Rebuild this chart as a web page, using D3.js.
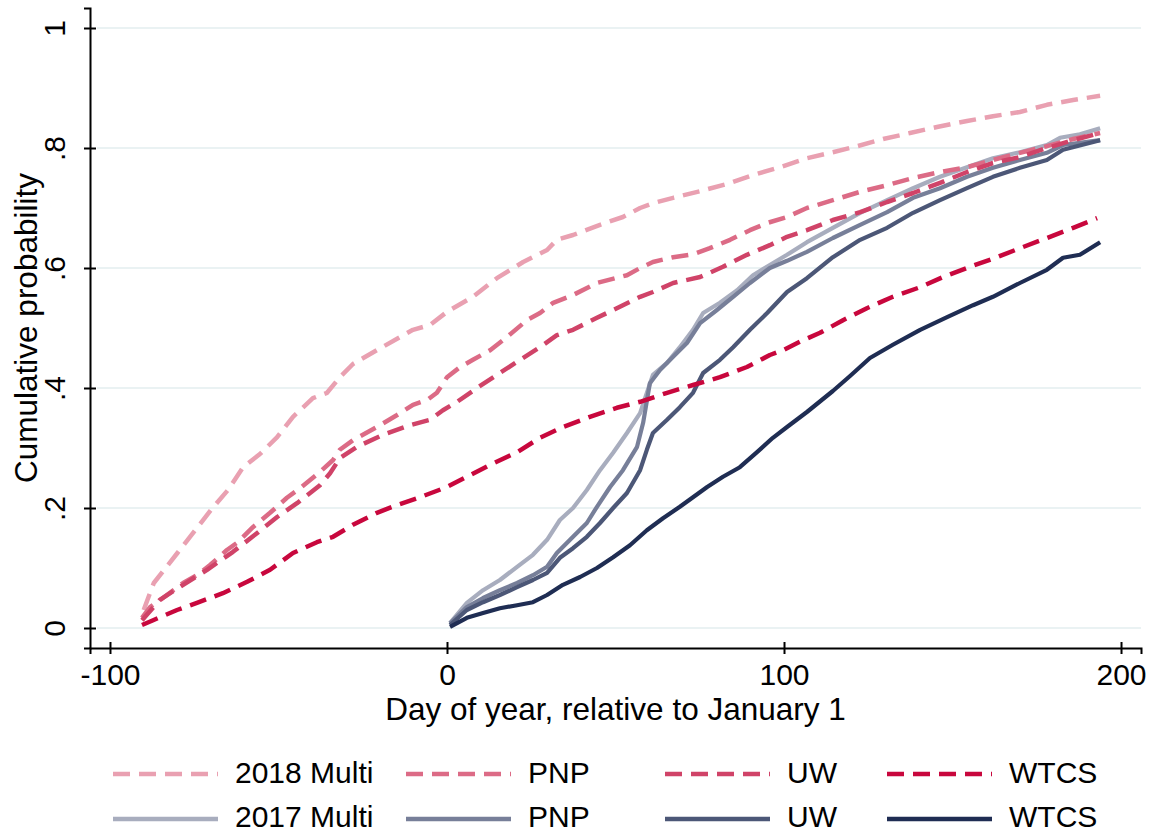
<!DOCTYPE html>
<html>
<head>
<meta charset="utf-8">
<script src="https://cdn.jsdelivr.net/npm/d3@7"></script>
<style>
  html, body { margin: 0; padding: 0; background: #fff; }
  svg { display: block; font-family: "Liberation Sans", Arial, sans-serif; }
</style>
</head>
<body>
<svg id="chart" width="1154" height="836"></svg>
<script>
// ---- Data (day relative to Jan 1, cumulative probability) ----
const multi2018 = [[-90,.03],[-87,.075],[-80,.125],[-74,.168],[-70,.197],[-65,.23],[-60.5,.268],[-55.5,.29],[-50.4,.318],[-45.7,.352],[-39.8,.383],[-35.6,.392],[-31.8,.418],[-27.9,.44],[-20.8,.463],[-13.9,.485],[-10.1,.497],[-5,.505],[0,.527],[7.7,.552],[14.8,.583],[22.6,.61],[29.7,.63],[32.6,.647],[37.4,.655],[45.4,.672],[52.2,.685],[57.3,.70],[61.1,.708],[67.1,.717],[75.1,.728],[83.1,.74],[90.8,.755],[98.8,.768],[106.8,.783],[114.5,.793],[121.7,.803],[129.4,.815],[137.4,.825],[145.4,.835],[154.3,.845],[162,.853],[170,.86],[178,.872],[185.8,.88],[193.8,.887]];
const pnp2018 = [[-90.5,.017],[-88.1,.035],[-84.3,.05],[-78.3,.075],[-74.2,.088],[-70.3,.105],[-65.3,.13],[-62.3,.142],[-57.6,.168],[-52.5,.192],[-47.5,.217],[-43.6,.233],[-37.7,.26],[-33.8,.28],[-31.8,.297],[-27.9,.313],[-20.8,.335],[-14.8,.355],[-10.1,.372],[-5.9,.38],[-3,.392],[0,.418],[3.9,.435],[7.7,.447],[12.8,.463],[17.8,.485],[23.7,.513],[27.6,.525],[31.5,.542],[37.4,.555],[44.5,.575],[53.4,.588],[57.3,.60],[61.1,.61],[67.1,.618],[73,.623],[78,.633],[84,.647],[89.9,.663],[95,.675],[100.9,.685],[106.8,.70],[114.5,.713],[122.6,.727],[130.6,.738],[138.3,.75],[146.3,.76],[154.3,.768],[162,.78],[170,.792],[178,.803],[185.8,.815],[193.8,.825]];
const uw2018 = [[-90.5,.013],[-85.2,.047],[-78.3,.072],[-71.2,.097],[-63.5,.127],[-56.4,.158],[-50.4,.185],[-44.5,.208],[-37.7,.238],[-34.7,.258],[-31.8,.283],[-26.7,.302],[-19,.322],[-11,.338],[-5,.347],[-1.2,.363],[3,.377],[8.9,.40],[15.7,.425],[21.7,.447],[27.6,.468],[32.6,.488],[37.4,.497],[44.5,.517],[50.4,.533],[57.3,.552],[61.1,.56],[67.1,.575],[75.1,.585],[81.9,.602],[89,.622],[95.8,.638],[100.9,.652],[106.8,.663],[114.5,.68],[122.6,.693],[130.6,.71],[138.3,.725],[146.3,.742],[154.3,.76],[162,.775],[170,.785],[178,.80],[185.8,.813],[193.8,.825]];
const wtcs2018 = [[-90.5,.005],[-87.2,.013],[-80.1,.03],[-74.2,.042],[-66.5,.058],[-59.3,.077],[-52.5,.097],[-45.7,.125],[-38.6,.143],[-33.8,.152],[-27.9,.172],[-20.8,.192],[-14.8,.205],[-8,.218],[0,.235],[5.9,.252],[12.8,.272],[20.8,.293],[27.6,.317],[34.4,.335],[42.4,.352],[50.4,.367],[57.3,.377],[65.3,.392],[73,.405],[81,.418],[89,.435],[95.8,.455],[99.7,.463],[104.7,.477],[110.7,.492],[117.5,.513],[124.6,.533],[132.3,.552],[140.4,.568],[147.2,.585],[155.2,.602],[163.2,.618],[170,.633],[178,.65],[185.8,.667],[192.9,.683]];
const multi2017 = [[0.9,.008],[5.9,.042],[10.7,.063],[15.7,.08],[20.8,.102],[25.5,.122],[29.7,.147],[33.5,.18],[37.4,.20],[41.5,.23],[45.4,.263],[49.3,.292],[53.4,.325],[57.3,.358],[59.6,.397],[61.1,.422],[65.3,.442],[69.1,.468],[73,.497],[76,.525],[81,.542],[86.1,.563],[90.8,.588],[95.8,.605],[100.9,.622],[106.8,.643],[114.5,.667],[122.6,.692],[130.6,.713],[138.3,.733],[146.3,.752],[154.3,.768],[162,.783],[170,.793],[178,.805],[181.9,.817],[187.8,.823],[193.8,.833]];
const pnp2017 = [[0.9,.008],[5.9,.035],[10.7,.05],[15.7,.063],[20.8,.075],[25.5,.088],[29.7,.102],[32.6,.125],[37.4,.152],[41.5,.175],[44.5,.202],[48.4,.235],[52.2,.263],[56.4,.302],[58.2,.342],[60.2,.408],[63.2,.43],[67.1,.452],[71.2,.475],[75.1,.508],[80.1,.53],[84.9,.552],[89.9,.575],[95.8,.60],[100.9,.612],[106.8,.627],[114.5,.65],[122.6,.672],[130.6,.693],[138.3,.717],[146.3,.733],[154.3,.752],[162,.767],[170,.78],[178,.792],[182.8,.805],[193.8,.813]];
const uw2017 = [[0.9,.005],[5.9,.03],[10.7,.043],[15.7,.055],[20.8,.068],[25.5,.08],[29.7,.092],[33.5,.117],[37.4,.133],[41.5,.152],[45.4,.175],[49.3,.20],[53.4,.225],[57.3,.263],[59.3,.297],[61.1,.325],[65.3,.347],[69.1,.368],[73,.392],[76,.425],[81,.447],[84.9,.468],[89.9,.497],[95,.525],[100.9,.56],[106.8,.583],[114.5,.618],[122.6,.647],[130.6,.667],[138.3,.692],[146.3,.713],[154.3,.733],[162,.752],[170,.767],[178,.78],[182.8,.797],[193.8,.813]];
const wtcs2017 = [[0.9,.002],[5.9,.017],[10.7,.025],[15.7,.033],[20.8,.038],[25.5,.043],[29.7,.055],[34.4,.072],[39.5,.085],[44.5,.10],[49.3,.118],[54.3,.138],[59.3,.163],[64.1,.183],[69.1,.202],[73,.218],[77.2,.235],[81.9,.252],[86.9,.268],[92,.293],[96.7,.317],[100.9,.335],[106.8,.36],[114.5,.395],[119.6,.42],[125.5,.45],[132.3,.472],[140.4,.497],[148.4,.518],[156.1,.538],[162,.552],[170,.575],[178,.597],[182.8,.617],[187.8,.622],[193.8,.643]];

const seriesLabels = ["2018 Multi","PNP","UW","WTCS","2017 Multi","PNP","UW","WTCS"];
const xTicks = [-100, 0, 100, 200];
const yTicks = [0, .2, .4, .6, .8, 1];
const yTickLabels = ["0", ".2", ".4", ".6", ".8", "1"];
const xTitle = "Day of year, relative to January 1";
const yTitle = "Cumulative probability";

// ---- Styles ----
const dashedColors = ["#e9a0b1", "#dc6b86", "#d04368", "#c8073d"];
const solidColors  = ["#a8adbe", "#777f99", "#4c5777", "#1f2d53"];
const series = [
  {label: seriesLabels[0], data: multi2018, color: dashedColors[0], dashed: true},
  {label: seriesLabels[1], data: pnp2018,   color: dashedColors[1], dashed: true},
  {label: seriesLabels[2], data: uw2018,    color: dashedColors[2], dashed: true},
  {label: seriesLabels[3], data: wtcs2018,  color: dashedColors[3], dashed: true},
  {label: seriesLabels[4], data: multi2017, color: solidColors[0], dashed: false},
  {label: seriesLabels[5], data: pnp2017,   color: solidColors[1], dashed: false},
  {label: seriesLabels[6], data: uw2017,    color: solidColors[2], dashed: false},
  {label: seriesLabels[7], data: wtcs2017,  color: solidColors[3], dashed: false}
];

const svg = d3.select("#chart");
const L = 90, R = 1141, T = 8, B = 648;
const x = d3.scaleLinear().domain([-105.93, 205.93]).range([L, R]);
const y = d3.scaleLinear().domain([-1/30, 1 + 1/30]).range([B, T]);

// gridlines
svg.append("g").selectAll("line").data(yTicks).join("line")
  .attr("x1", L + 7).attr("x2", R)
  .attr("y1", d => y(d)).attr("y2", d => y(d))
  .attr("stroke", "#eaf2f3").attr("stroke-width", 2);

// lines: solids first, then dashed on top
const line = d3.line().x(d => x(d[0])).y(d => y(d[1])).curve(d3.curveLinear);
const drawOrder = series.filter(s => !s.dashed).concat(series.filter(s => s.dashed));
svg.append("g").selectAll("path").data(drawOrder).join("path")
  .attr("d", s => line(s.data))
  .attr("fill", "none")
  .attr("stroke", s => s.color)
  .attr("stroke-width", s => s.dashed ? 4.5 : 4.2)
  .attr("stroke-linejoin", "round")
  .attr("stroke-dasharray", s => s.dashed ? "17,9" : null);

// x axis
const gx = svg.append("g").attr("transform", `translate(0,${B})`)
  .call(d3.axisBottom(x).tickValues(xTicks).tickFormat(d3.format("d")).tickSizeOuter(0).tickSize(6));
gx.select(".domain").attr("stroke", "#000").attr("stroke-width", 2);
gx.selectAll(".tick line").attr("y1", -6).attr("y2", 6).attr("stroke", "#000").attr("stroke-width", 2);
gx.selectAll(".tick text").attr("y", 37).attr("dy", 0)
  .attr("font-size", 30).attr("fill", "#000")
  .attr("font-family", "Liberation Sans, Arial, sans-serif")
  .text(d => d < 0 ? "-" + Math.abs(d) : d);

// y axis
const gy = svg.append("g").attr("transform", `translate(${L},0)`)
  .call(d3.axisLeft(y).tickValues(yTicks).tickFormat((d, i) => yTickLabels[i]).tickSizeOuter(0).tickSize(6));
gy.select(".domain").attr("stroke", "#000").attr("stroke-width", 2);
gy.selectAll(".tick line").attr("x1", -6).attr("x2", 6).attr("stroke", "#000").attr("stroke-width", 2);
gy.selectAll(".tick text")
  .attr("transform", "rotate(-90)")
  .attr("x", 0).attr("y", -25).attr("dy", 0)
  .attr("text-anchor", "middle")
  .attr("font-size", 30).attr("fill", "#000")
  .attr("font-family", "Liberation Sans, Arial, sans-serif");

// axis titles
svg.append("text")
  .attr("x", (L + R) / 2).attr("y", 720)
  .attr("text-anchor", "middle").attr("font-size", 31.5).attr("fill", "#000")
  .text(xTitle);
svg.append("text")
  .attr("transform", `translate(37,${(T + B) / 2}) rotate(-90)`)
  .attr("text-anchor", "middle").attr("font-size", 31.5).attr("fill", "#000")
  .text(yTitle);

// legend
const colX = [113, 406, 665, 887];
const rowLineY = [774, 819];
const rowTextY = [783, 827];
const lg = svg.append("g");
series.forEach((s, i) => {
  const r = i < 4 ? 0 : 1, c = i % 4;
  lg.append("line")
    .attr("x1", colX[c]).attr("x2", colX[c] + 105)
    .attr("y1", rowLineY[r]).attr("y2", rowLineY[r])
    .attr("stroke", s.color).attr("stroke-width", 4.5)
    .attr("stroke-dasharray", s.dashed ? "17,9" : null);
  lg.append("text")
    .attr("x", colX[c] + 122).attr("y", rowTextY[r])
    .attr("font-size", 30).attr("fill", "#000")
    .text(s.label);
});
</script>
</body>
</html>
